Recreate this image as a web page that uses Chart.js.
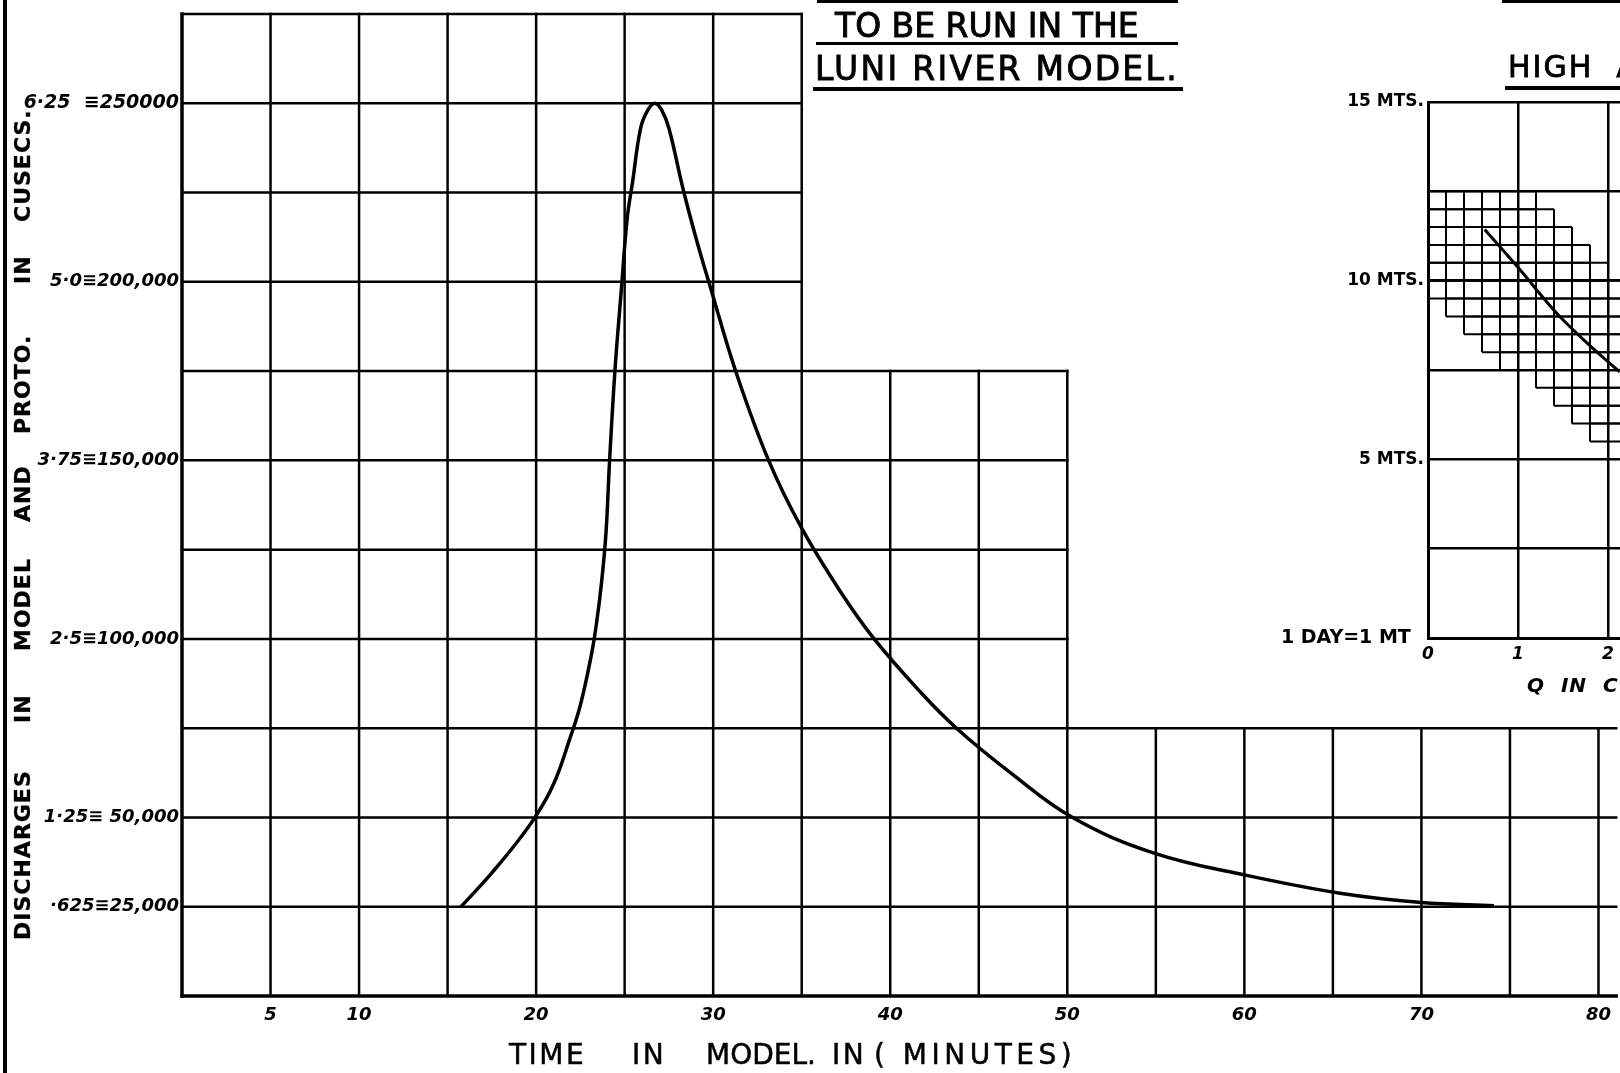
<!DOCTYPE html>
<html><head><meta charset="utf-8">
<script src="https://cdn.jsdelivr.net/npm/chart.js@4.4.1/dist/chart.umd.min.js"></script>
<style>
html,body{margin:0;padding:0;background:#fff;}
#stage{position:relative;width:1620px;height:1073px;overflow:hidden;background:#fff;font-family:'DejaVu Sans',sans-serif;color:#000;}
canvas{position:absolute;}
#main{left:0;top:0;}
#inset{left:1180px;top:80px;}
.t{position:absolute;white-space:pre;line-height:1;}
.rule{position:absolute;background:#000;}
.ytitle{position:absolute;left:12px;top:940px;width:842px;height:24px;transform:rotate(-90deg);transform-origin:0 0;font-weight:bold;font-size:22px;letter-spacing:1px;-webkit-text-stroke:0.3px #000;}
.ytitle span{position:absolute;top:0;white-space:pre;line-height:1;}
.xt{font-size:28px;letter-spacing:2.5px;top:1041px;-webkit-text-stroke:0.5px #000;}
</style></head>
<body><div id="stage">
<canvas id="main" width="1620" height="1073"></canvas>
<canvas id="inset" width="440" height="640"></canvas>

<div class="rule" style="left:3px;top:0;width:4px;height:1073px"></div>

<div class="rule" style="left:817px;top:0;width:361px;height:2.5px"></div>
<div class="t" style="left:835px;top:9px;font-size:33px;-webkit-text-stroke:0.9px #000">TO BE RUN IN THE</div>
<div class="rule" style="left:816px;top:42px;width:362px;height:3px"></div>
<div class="t" style="left:815px;top:52px;font-size:33px;letter-spacing:2.3px;-webkit-text-stroke:0.9px #000">LUNI RIVER MODEL.</div>
<div class="rule" style="left:813px;top:87px;width:370px;height:3.5px"></div>

<div class="rule" style="left:1502px;top:0;width:118px;height:2.5px"></div>
<div class="t" style="left:1508px;top:52px;font-size:30px;letter-spacing:2px;-webkit-text-stroke:0.8px #000">HIGH  A</div>
<div class="rule" style="left:1505px;top:86px;width:115px;height:3.5px"></div>

<div class="t" style="left:1527px;top:675px;font-size:20px;font-weight:bold;font-style:italic;letter-spacing:1px">Q  IN  C</div>

<div class="t xt" style="left:509px">TIME</div>
<div class="t xt" style="left:632px">IN</div>
<div class="t xt" style="left:706px;letter-spacing:0px">MODEL.</div>
<div class="t xt" style="left:832px">IN</div>
<div class="t xt" style="left:874px;letter-spacing:4.5px">( MINUTES)</div>

<div class="ytitle">
<span style="left:0px">DISCHARGES</span><span style="left:217px">IN</span><span style="left:289px">MODEL</span><span style="left:418px">AND</span><span style="left:506px">PROTO.</span><span style="left:656px">IN</span><span style="left:718px">CUSECS.</span>
</div>
</div>
<script>
// ---- main hydrograph data ----
const minutes = [15.75, 16.6, 17.5, 18.75, 20.0, 21.0, 21.9, 22.5, 23.1, 23.4, 23.7, 23.95, 24.15, 24.45, 24.8, 25.15, 25.45, 25.9, 26.3, 26.7, 27.1, 27.5, 28.3, 29.1, 29.87, 31.27, 33.13, 35.0, 37.22, 39.09, 41.69, 43.74, 46.8, 50.3, 54.9, 60.2, 65.4, 70.0, 74.1];
const dischargeCusecs = [25000, 29500, 34500, 42000, 50500, 59500, 72000, 81500, 95000, 104000, 116000, 130000, 150000, 175000, 197000, 218000, 228000, 243000, 248000, 250000, 248000, 243000, 226000, 211000, 198000, 175000, 150000, 131000, 113000, 100000, 85200, 75000, 62500, 50000, 40000, 33700, 28800, 26200, 25300];
const xLabelMinutes = [5, 10, 20, 30, 40, 50, 60, 70, 80];
const yLabelValues = [25000, 50000, 100000, 150000, 200000, 250000];
const yLabelTexts = ['\u00b7625\u226125,000', '1\u00b725\u2261 50,000', '2\u00b75\u2261100,000', '3\u00b775\u2261150,000', '5\u00b70\u2261200,000', '6\u00b725  \u2261250000'];
// ruled-grid steps: the sheet is ruled up to each discharge level as far as each minute
const ruledTops = [275000, 175000, 75000];
const ruledRights = [35, 50, 81];

// ---- inset data ----
const insetQ = [0.63, 1.02, 1.43, 1.87, 2.13];
const insetMts = [11.43, 10.31, 9.09, 8.02, 7.45];
const insetXLabels = [0, 1, 2];
const insetYLabelValues = [15, 10, 5, 0];
const insetYLabelTexts = ['15 MTS.', '10 MTS.', '5 MTS.', '1 DAY=1 MT  '];
const bandRowTop = [12.5, 12, 11.5, 11, 10.5, 10, 9.5, 9, 8.5, 8, 7.5, 7, 6.5, 6];
const bandRowLeft = [0, 0, 0, 0, 0, 0, 0.2, 0.4, 0.6, 0.8, 1.2, 1.4, 1.6, 1.8];
const bandRowRight = [1.2, 1.4, 1.6, 1.8, 2.0, 2.2, 2.2, 2.2, 2.2, 2.2, 2.2, 2.2, 2.2, 2.2];
const bandRowHeight = 0.5;
const bandCellWidth = 0.2;

function seg(ctx, x1, y1, x2, y2, w) {
  ctx.lineWidth = w;
  ctx.beginPath(); ctx.moveTo(x1, y1); ctx.lineTo(x2, y2); ctx.stroke();
}

const ruledGrid = {
  id: 'ruledGrid',
  beforeDatasetsDraw(chart) {
    const {ctx, scales: {x, y}} = chart;
    ctx.save();
    ctx.strokeStyle = '#000';
    ctx.lineCap = 'square';
    y.ticks.forEach(t => {
      const right = Math.max(...ruledRights.filter((r, i) => ruledTops[i] >= t.value));
      const py = y.getPixelForValue(t.value);
      seg(ctx, x.getPixelForValue(0), py, x.getPixelForValue(right), py, t.value === 0 ? 3.5 : 2.5);
    });
    x.ticks.forEach(t => {
      const top = Math.max(...ruledTops.filter((h, i) => ruledRights[i] >= t.value));
      const px = x.getPixelForValue(t.value);
      seg(ctx, px, y.getPixelForValue(0), px, y.getPixelForValue(top), t.value === 0 ? 3.5 : 2.5);
    });
    ctx.restore();
  }
};

const tickFont = {family: "'DejaVu Sans'", size: 18, style: 'italic', weight: 'bold'};

new Chart(document.getElementById('main'), {
  type: 'line',
  data: {
    datasets: [{
      data: minutes.map((m, i) => ({x: m, y: dischargeCusecs[i]})),
      borderColor: '#000',
      borderWidth: 3.5,
      pointRadius: 0,
      fill: false,
      tension: 0.4
    }]
  },
  options: {
    responsive: false,
    devicePixelRatio: 1,
    animation: false,
    events: [],
    layout: {padding: {top: 14, left: 0, right: 0, bottom: 0}},
    plugins: {legend: {display: false}, tooltip: {enabled: false}},
    scales: {
      x: {
        type: 'linear', min: 0, max: 81,
        grid: {display: false, drawTicks: false},
        border: {display: false},
        afterFit: s => { s.height = 77; },
        ticks: {
          stepSize: 5, includeBounds: false, autoSkip: false, maxRotation: 0,
          color: '#000', font: tickFont, padding: 9,
          callback: v => xLabelMinutes.includes(v) ? String(v) : ''
        }
      },
      y: {
        type: 'linear', min: 0, max: 275000,
        grid: {display: false, drawTicks: false},
        border: {display: false},
        afterFit: s => { s.width = 182; },
        ticks: {
          stepSize: 25000, includeBounds: false, autoSkip: false,
          color: '#000', padding: 3,
          font: ctx => (ctx.tick && ctx.tick.value === 250000) ? Object.assign({}, tickFont, {size: 19}) : tickFont,
          callback: v => { const i = yLabelValues.indexOf(v); return i >= 0 ? yLabelTexts[i] : ''; }
        }
      }
    }
  },
  plugins: [ruledGrid]
});

const bandGrid = {
  id: 'bandGrid',
  beforeDatasetsDraw(chart) {
    const {ctx, chartArea: a, scales: {x, y}} = chart;
    ctx.save();
    ctx.beginPath(); ctx.rect(a.left, a.top, a.right - a.left + 2, a.bottom - a.top); ctx.clip();
    ctx.strokeStyle = '#000';
    bandRowTop.forEach((top, i) => {
      const bottom = top - bandRowHeight;
      const l = bandRowLeft[i], r = bandRowRight[i];
      seg(ctx, x.getPixelForValue(l), y.getPixelForValue(top), x.getPixelForValue(r), y.getPixelForValue(top), 2);
      seg(ctx, x.getPixelForValue(l), y.getPixelForValue(bottom), x.getPixelForValue(r), y.getPixelForValue(bottom), 2);
      const n = Math.round((r - l) / bandCellWidth);
      for (let k = 0; k <= n; k++) {
        const px = x.getPixelForValue(l + k * bandCellWidth);
        seg(ctx, px, y.getPixelForValue(top), px, y.getPixelForValue(bottom), 2);
      }
    });
    ctx.restore();
  }
};

const insetYFont = {family: "'DejaVu Sans'", size: 17, weight: 'bold'};

new Chart(document.getElementById('inset'), {
  type: 'line',
  data: {
    datasets: [{
      data: insetQ.map((q, i) => ({x: q, y: insetMts[i]})),
      borderColor: '#000',
      borderWidth: 3,
      pointRadius: 0,
      fill: false,
      cubicInterpolationMode: 'monotone'
    }]
  },
  options: {
    responsive: false,
    devicePixelRatio: 1,
    animation: false,
    events: [],
    layout: {padding: {top: 22, left: 0, right: 0, bottom: 0}},
    plugins: {legend: {display: false}, tooltip: {enabled: false}},
    scales: {
      x: {
        type: 'linear', min: 0, max: 2.1333,
        grid: {color: '#000', lineWidth: 2.5, drawTicks: false},
        border: {display: true, color: '#000', width: 3},
        afterFit: s => { s.height = 82; },
        ticks: {
          stepSize: 1, includeBounds: false, autoSkip: false, maxRotation: 0,
          color: '#000', font: {family: "'DejaVu Sans'", size: 17, style: 'italic', weight: 'bold'}, padding: 6,
          callback: v => insetXLabels.includes(v) ? String(v) : ''
        }
      },
      y: {
        type: 'linear', min: 0, max: 15,
        grid: {color: '#000', lineWidth: 2.5, drawTicks: false},
        border: {display: true, color: '#000', width: 3},
        afterFit: s => { s.width = 248; },
        ticks: {
          stepSize: 2.5, includeBounds: false, autoSkip: false,
          color: '#000', padding: 4,
          font: ctx => (ctx.tick && ctx.tick.value === 0) ? Object.assign({}, insetYFont, {size: 19}) : insetYFont,
          callback: v => { const i = insetYLabelValues.indexOf(v); return i >= 0 ? insetYLabelTexts[i] : ''; }
        }
      }
    }
  },
  plugins: [bandGrid]
});
</script>
</body></html>
